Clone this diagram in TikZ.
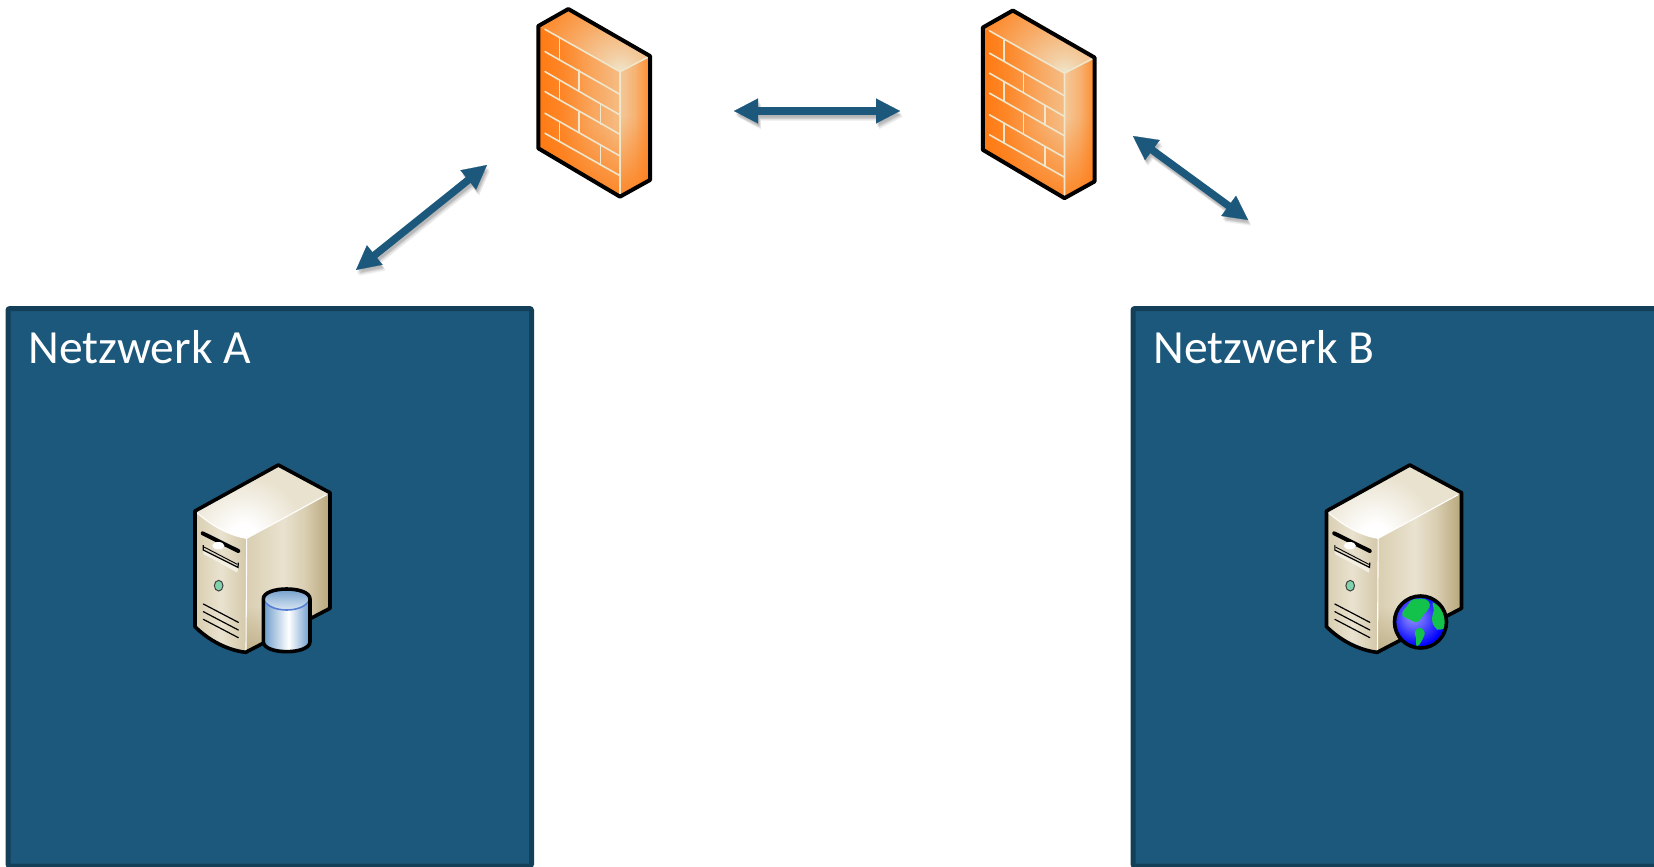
\documentclass[tikz,border=0pt]{standalone}
\usepackage{fontspec}
\setmainfont{Carlito}
\usetikzlibrary{arrows.meta,fadings}
\definecolor{navy}{HTML}{1C587B}
\definecolor{navyline}{HTML}{143F59}
\definecolor{fwor}{HTML}{FF7A12}
\definecolor{brick}{HTML}{EFE6CC}
\pgfdeclarehorizontalshading{fwfront}{100bp}{color(0bp)=(fwor); color(25bp)=(fwor); color(40bp)=(fwor!88!brick); color(58bp)=(fwor!60!brick); color(72bp)=(fwor!42!brick); color(100bp)=(fwor!42!brick)}
\pgfdeclarehorizontalshading{fwside}{100bp}{color(0bp)=(fwor!28!brick); color(25bp)=(fwor!28!brick); color(50bp)=(fwor!48!brick); color(75bp)=(fwor!85!brick); color(100bp)=(fwor!85!brick)}
\pgfdeclareradialshading{fwtop}{\pgfpoint{0bp}{0bp}}{color(0bp)=(brick); color(4bp)=(fwor!22!brick); color(12bp)=(fwor!55!brick); color(22bp)=(fwor!92!brick); color(50bp)=(fwor!92!brick)}
\definecolor{srvA}{HTML}{E9E2CF}
\definecolor{srvB}{HTML}{B7A67A}
\definecolor{srvC}{HTML}{D9CEB1}
\pgfdeclarehorizontalshading{srvfront}{100bp}{color(0bp)=(srvC); color(25bp)=(srvC); color(50bp)=(srvA); color(75bp)=(srvC!85!srvB); color(100bp)=(srvC!85!srvB)}
\pgfdeclarehorizontalshading{srvright}{100bp}{color(0bp)=(srvC); color(25bp)=(srvC); color(47bp)=(srvA); color(60bp)=(srvC); color(75bp)=(srvB); color(100bp)=(srvB)}
\pgfdeclareradialshading{srvtop}{\pgfpoint{0bp}{0bp}}{color(0bp)=(white); color(3bp)=(white); color(14bp)=(srvA); color(50bp)=(srvA)}
\definecolor{cylB}{HTML}{6C9CCB}
\pgfdeclarehorizontalshading{cylside}{100bp}{color(0bp)=(cylB); color(25bp)=(cylB); color(52bp)=(white); color(75bp)=(cylB); color(100bp)=(cylB)}
\pgfdeclareradialshading{globe}{\pgfpoint{-8bp}{6bp}}{color(0bp)=(blue!42!white); color(10bp)=(blue!62!white); color(26bp)=(blue); color(50bp)=(blue)}
\definecolor{land}{HTML}{12C24A}
\newcommand{\srvbody}{%
    \begin{scope}
      \clip (45,183) .. controls (90,222) and (140,255) .. (200,265) -- (198,607) .. controls (140,600) and (85,570) .. (45,530) -- cycle;
      \shade[shading=srvfront] (45,150) rectangle (200,620);
    \end{scope}
    \begin{scope}
      \clip (200,265)--(450,128)--(450,475)--(198,607)--cycle;
      \shade[shading=srvright] (198,100) rectangle (450,620);
      \fill[srvB,fill opacity=.8,path fading=north] (198,470) rectangle (300,620);
    \end{scope}
    \begin{scope}
      \clip (45,183) .. controls (90,222) and (140,255) .. (200,265) -- (450,128)--(295,45)--cycle;
      \shade[shading=srvtop] (190,262) circle (330);
    \end{scope}
    \draw[white,line width=1.1pt] (48,186) .. controls (90,222) and (140,255) .. (200,265) -- (440,134);
    \draw[white,line width=1.1pt] (200,265)--(198,600);
    \fill[srvB!45!white] (70,285)--(70,312)--(172,368)--(175,338)--cycle;
    \fill[srvA!60!white] (70,297)--(70,312)--(172,368)--(174,355)--cycle;
    \draw[black,line width=1.2pt] (70,285)--(70,300)--(174,352)--(175,338);
    \draw[black,line width=.9pt] (72,291)--(172,343);
    \draw[black,line width=4pt,line cap=round] (68,250)--(175,303);
    \fill[white] (115,287) ellipse [x radius=18,y radius=11];
    \draw[black!75,fill=green!30!teal!50!white,line width=1pt] (116,407) ellipse [x radius=13,y radius=16];
    \foreach \ya in {462,485,508}
      \draw[black,line width=1.2pt,line cap=round] (70,\ya)--(175,\ya+55);
    \draw[outline] (295,45)--(45,183)--(45,530) .. controls (85,570) and (140,600) .. (197,607)--(450,475)--(450,128)--cycle;
}
\tikzset{
  panel/.style={draw=navyline,fill=navy,line width=5pt,rounded corners=2pt,outer sep=0pt,inner sep=0pt,anchor=north west},
  paneltext/.style={text=white,font=\fontsize{47.6}{50}\selectfont,anchor=base west,inner sep=0pt},
  link/.style={draw=navy,fill=navy,line width=.2pt,{Triangle[length=24pt,width=25pt]}-{Triangle[length=24pt,width=25pt]}},
  linkshaft/.style={draw=navy,line width=7.5pt,shorten <=20pt,shorten >=20pt},
  linkshadow/.style={draw=black,draw opacity=.05,line width=7.5pt,shorten <=24pt,shorten >=24pt},
  linkshadowtip/.style={draw=none,fill=black,fill opacity=.05,line width=.2pt,{Triangle[length=24pt,width=25pt]}-{Triangle[length=24pt,width=25pt]}},
  brickline/.style={draw=brick,line width=1.6pt,line cap=round},
  outline/.style={draw=black,line width=3.6pt,line join=round},
  firewall/.pic={
    \begin{scope}
      \clip (85,78)--(85,445)--(330,590)--(330,215)--cycle;
      \shade[shading=fwfront] (85,0) rectangle (330,600);
      \fill[fwor,fill opacity=.85,path fading=north] (85,380) rectangle (330,600);
    \end{scope}
    \begin{scope}
      \clip (330,215)--(420,168)--(420,540)--(330,590)--cycle;
      \shade[shading=fwside] (330,100) rectangle (420,600);
      \fill[fwor,fill opacity=.85,path fading=north] (330,350) rectangle (420,600);
    \end{scope}
    \begin{scope}
      \clip (175,27)--(85,78)--(330,215)--(420,168)--cycle;
      \shade[shading=fwtop] (330,215) circle (330);
    \end{scope}
    \foreach \ya/\yb in {88/215,155/283,215/345,275/403,340/468,400/527}
      \draw[brickline] (105,\ya)--(330,\yb);
    \draw[brickline] (330,215)--(330,590) (330,215)--(415,171);
    \foreach \xx/\ya/\yb in {148/113/178,207/210/270,148/240/298,272/312/372,207/335/395,148/365/425,272/435/495}
      \draw[brickline] (\xx,\ya)--(\xx,\yb);
    \draw[outline,line width=4pt] (175,27)--(85,78)--(85,445)--(330,590)--(420,540)--(420,168)--cycle;
  },
  serverdb/.pic={
    \srvbody
    \shade[shading=cylside] (250,447)--(250,575) .. controls (250,615) and (390,615) .. (390,575)--(390,447) .. controls (390,407) and (250,407) .. (250,447) -- cycle;
    \shade[top color=cylB,bottom color=cylB!25!white] (320,447) ellipse [x radius=70,y radius=33];
    \draw[cylB!80!blue,line width=1.6pt] (252,450) .. controls (270,490) and (370,490) .. (388,450);
    \draw[outline] (250,447)--(250,575) .. controls (250,615) and (390,615) .. (390,575)--(390,447) .. controls (390,407) and (250,407) .. (250,447) -- cycle;
  },
  serverweb/.pic={
    \srvbody
    \shade[shading=globe] (327,516) circle (78);
    \begin{scope}
      \clip (327,516) circle (78);
      \fill[land,rounded corners=4pt] (268,490)--(293,462)--(297,448)--(342,445)--(359,462)--(349,482)--(337,490)--(327,512)--(309,520)--(295,505)--(279,505)--cycle;
      \fill[land,rounded corners=4pt] (359,452)--(397,480)--(409,530)--(385,542)--(369,535)--(359,505)--(369,480)--cycle;
      \fill[land,rounded corners=3pt] (307,545)--(325,530)--(342,545)--(335,565)--(319,592)--(312,585)--(315,565)--cycle;
    \end{scope}
    \draw[outline] (327,516) circle (78);
  }
}
\begin{document}
\begin{tikzpicture}[x=1pt,y=-1pt]
\useasboundingbox (0,0) rectangle (1654,867);
\fill[white] (0,0) rectangle (1654,867);

\node[panel,minimum width=523.5pt,minimum height=557.5pt] (netA) at (8,308.5) {};
\node[panel,minimum width=560pt,minimum height=557.5pt] (netB) at (1133,308.5) {};
\node[paneltext] (labA) at (28.5,363) {Netzwerk A};
\node[paneltext] (labB) at (1153.5,363) {Netzwerk B};

\pic[scale=1/3] (fwA) at (510,0) {firewall};
\pic[scale=1/3] (fwB) at (954.5,1.5) {firewall};
\pic[scale=1/3] (srvDb) at (180,450) {serverdb};
\pic[scale=1/3] (srvWeb) at (1311.5,450) {serverweb};

\coordinate (a1) at (356,270);
\coordinate (a2) at (487,165);
\coordinate (b1) at (734,111);
\coordinate (b2) at (900,111);
\coordinate (c1) at (1133,136);
\coordinate (c2) at (1248,220);

\foreach \p/\q in {a1/a2,b1/b2,c1/c2}{
  \foreach \dx/\dy in {1/2,2/3,2/4,3/5,3/6,1/4}{
    \draw[linkshadow] ([shift={(\dx,\dy)}]\p) -- ([shift={(\dx,\dy)}]\q);
    \draw[linkshadowtip,draw=black,draw opacity=0] ([shift={(\dx,\dy)}]\p) -- ([shift={(\dx,\dy)}]\q);
  }
  \draw[linkshaft] (\p) -- (\q);
  \draw[link] (\p) -- (\q);
}
\end{tikzpicture}
\end{document}
